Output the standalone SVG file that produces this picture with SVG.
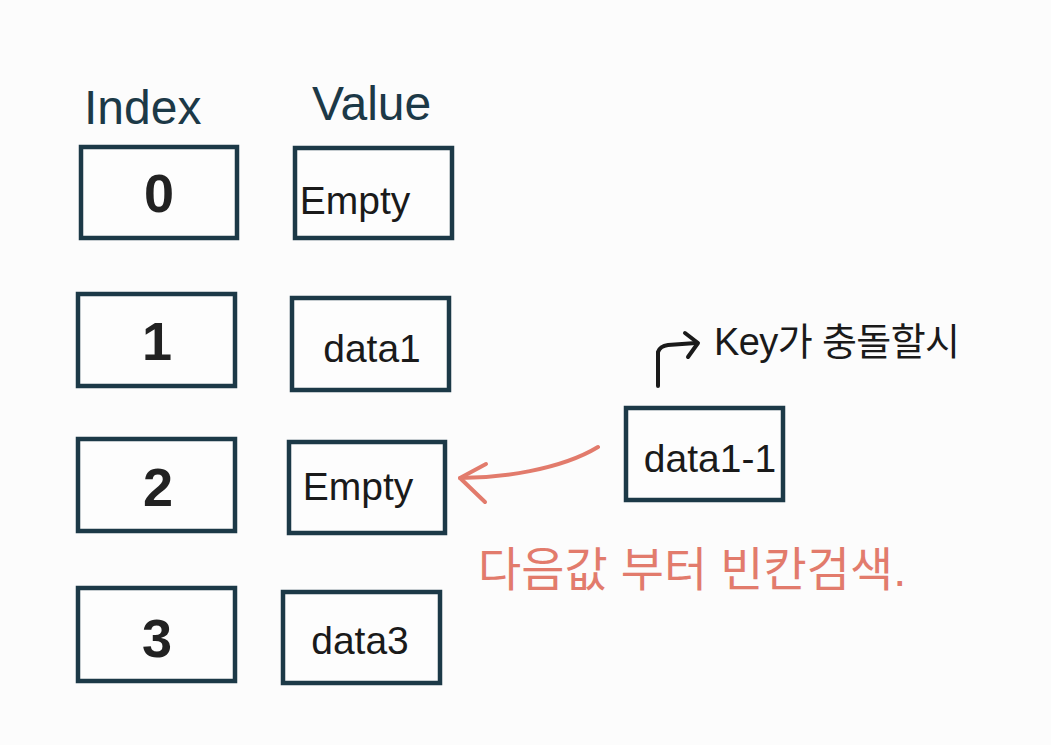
<svg xmlns="http://www.w3.org/2000/svg" width="1051" height="745" viewBox="0 0 1051 745">
<style>
.box{fill:#fdfdfd;stroke:#1c3947;stroke-width:4.5}
.num{font-family:"Liberation Sans","Noto Sans",sans-serif;font-weight:bold;font-size:54px;fill:#222;text-anchor:middle}
.val{font-family:"Liberation Sans","Noto Sans",sans-serif;font-size:39px;fill:#1a1a1a;text-anchor:middle}
.head{font-family:"Liberation Sans","Noto Sans",sans-serif;font-size:48px;fill:#1c3947}
.ko{font-family:"Liberation Sans","Noto Sans CJK KR",sans-serif;font-size:38px}
.ko2{font-family:"Liberation Sans","Noto Sans CJK KR",sans-serif;font-size:47px;fill:#e27b6c}
</style>
<rect width="1051" height="745" fill="#fcfcfc"/>
<text class="head" x="84" y="124">Index</text>
<text class="head" x="312" y="120">Value</text>
<g id="idx0"><rect class="box" x="81" y="147" width="156" height="91"/><text class="num" x="159" y="212">0</text></g>
<g id="val0"><rect class="box" x="295" y="148" width="157" height="90"/><text class="val" x="355" y="214">Empty</text></g>
<g id="idx1"><rect class="box" x="78" y="294" width="157" height="92"/><text class="num" x="157" y="360">1</text></g>
<g id="val1"><rect class="box" x="292" y="298" width="157" height="92"/><text class="val" x="372" y="362">data1</text></g>
<g id="idx2"><rect class="box" x="78" y="439" width="157" height="92"/><text class="num" x="158" y="506">2</text></g>
<g id="val2"><rect class="box" x="289" y="442" width="156" height="91"/><text class="val" x="358" y="500">Empty</text></g>
<g id="idx3"><rect class="box" x="78" y="588" width="157" height="93"/><text class="num" x="157" y="657">3</text></g>
<g id="val3"><rect class="box" x="283" y="592" width="157" height="91"/><text class="val" x="360" y="654">data3</text></g>
<g id="data11"><rect class="box" x="626" y="408" width="157" height="92"/><text class="val" x="710" y="472">data1-1</text></g>
<g id="connectors" fill="none" stroke-linecap="round" stroke-linejoin="round">
<path d="M598,447 C560,470 500,478 460,478" stroke="#e27b6c" stroke-width="4"/>
<path d="M486,464 L460,478 L485,502" stroke="#e27b6c" stroke-width="4"/>
<path d="M658,386 L658,352 Q660,346 668,345 L696,343" stroke="#1a1a1a" stroke-width="4"/>
<path d="M685,333 L698,343 L688,357" stroke="#1a1a1a" stroke-width="4"/>
</g>
<text class="ko" x="714" y="355" fill="#1a1a1a" textLength="246">Key가 충돌할시</text>
<text class="ko2" x="478" y="586">다음값 부터 빈칸검색.</text>
</svg>
